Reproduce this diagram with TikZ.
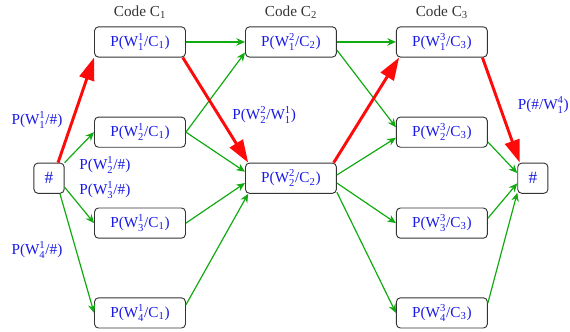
\documentclass[tikz,border=0pt]{standalone}
\usepackage{amsmath}
\usepackage{fontspec}
\setmainfont{Liberation Serif}
\usetikzlibrary{positioning,arrows.meta}
\definecolor{ink}{HTML}{333333}
\definecolor{label}{HTML}{1A1AE6}
\definecolor{link}{HTML}{11AA11}
\definecolor{viterbi}{HTML}{FF0A0A}
\newcommand{\Wsym}[2]{W$^{\text{#1}}_{\text{#2}}$}
\newcommand{\Csub}[1]{C$_{\text{#1}}$}

\begin{document}
\begin{tikzpicture}[font=\fontsize{11.5}{14}\selectfont,
    state/.style={draw=ink, line width=0.7pt, rounded corners=3pt, text=label, minimum width=2.41cm, minimum height=0.8cm, inner sep=1pt},
    term/.style={state, minimum width=0.8cm, font=\fontsize{13}{15}\selectfont},
    hop/.style={link, line width=0.9pt, -{Stealth[length=2.3mm,width=2mm]}},
    bestpath/.style={viterbi, line width=2.2pt, -{Triangle[length=6mm,width=4mm]}},
    prob/.style={text=label}]
    \useasboundingbox (0,0) rectangle (15.105,8.772);
    \foreach \k/\x in {1/3.71,2/7.71,3/11.71} \node[ink] (h\k) at (\x,8.45) {Code \Csub{\k}};
    \foreach \i/\y in {1/7.66,2/5.27,3/2.86,4/0.48} {
      \node[state] (a\i) at (3.71,\y) {P(\Wsym{1}{\i}/\Csub{1})};
      \node[state] (c\i) at (11.71,\y) {P(\Wsym{3}{\i}/\Csub{3})};
    }
    \node[state] (b1) at (7.71,7.66) {P(\Wsym{2}{1}/\Csub{2})};
    \node[state] (b2) at (7.71,4.05) {P(\Wsym{2}{2}/\Csub{2})};
    \node[term] (s) at (1.30,4.05) {\#};
    \node[term] (t) at (14.12,4.05) {\#};
    \foreach \u/\v in {s.north east/a2.west, s.-30/a3.west, s.-55/a4.west,
        a1.east/b1.west, a2.east/b1.193, a2.east/b2.172, a3.east/b2.186, a4.10/b2.200,
        b1.east/c1.west, b1.-10/c2.174, b2.4/c2.187, b2.-6/c3.west, b2.-17/c4.west,
        c2.-12/t.162, c3.6/t.198, c4.12/t.223}
      \draw[hop] (\u) -- (\v);
    \foreach \u/\v in {s.60/a1.south west, a1.-20/b2.160, b2.20/c1.200, c1.-21/t.130}
      \draw[bestpath] (\u) -- (\v);
    \node[prob] (l1) at (0.98,5.59) {P(\Wsym{1}{1}/\#)};
    \node[prob] (l2) at (2.78,4.40) {P(\Wsym{1}{2}/\#)};
    \node[prob] (l3) at (2.78,3.74) {P(\Wsym{1}{3}/\#)};
    \node[prob] (l4) at (0.98,2.15) {P(\Wsym{1}{4}/\#)};
    \node[prob] (l5) at (7.00,5.72) {P(\Wsym{2}{2}/\Wsym{1}{1})};
    \node[prob, anchor=east, inner sep=0pt] (l6) at (15.08,5.99) {P(\#/\Wsym{4}{1})};
\end{tikzpicture}
\end{document}
